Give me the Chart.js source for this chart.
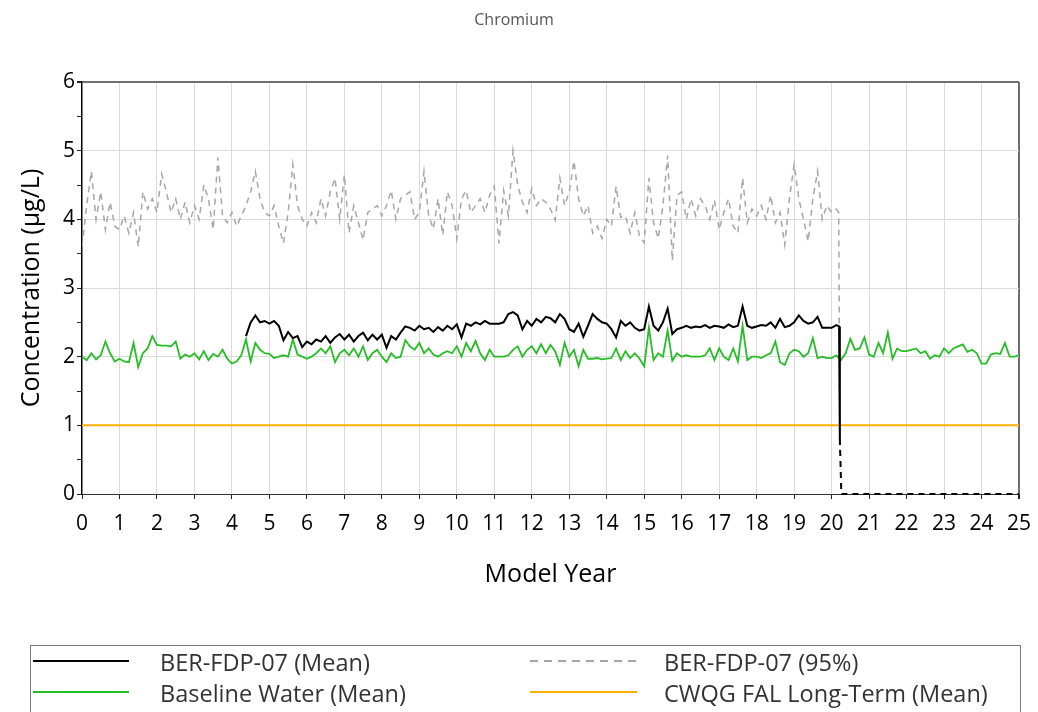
<!DOCTYPE html>
<html><head><meta charset="utf-8">
<script src="https://cdn.jsdelivr.net/npm/chart.js@4"></script>
<style>
html,body{margin:0;padding:0;background:#fff;}
#wrap{position:relative;width:1038px;height:712px;overflow:hidden;}
#c{position:absolute;left:0;top:0;}
#title{position:absolute;left:0;width:1028px;top:8px;text-align:center;font:16px "Open Sans";color:#555;}
#legend{position:absolute;left:30px;top:645px;width:991px;height:90px;border:1px solid #7a7a7a;box-sizing:border-box;font-family:"Open Sans";font-size:23.5px;color:#333;}
.lt{position:absolute;white-space:nowrap;line-height:28px;height:28px;}
</style></head>
<body><div id="wrap"><canvas id="c" width="1038" height="712"></canvas><div id="title">Chromium</div><div id="legend"></div></div>
<script>
const STEP = 0.125;
const seriesNames = ['BER-FDP-07 (Mean)', 'BER-FDP-07 (95%)', 'Baseline Water (Mean)', 'CWQG FAL Long-Term (Mean)'];
const xTicks = [0,1,2,3,4,5,6,7,8,9,10,11,12,13,14,15,16,17,18,19,20,21,22,23,24,25];
const yTicks = [0,1,2,3,4,5,6];

// Baseline Water (Mean), every 0.125 year from 0 to 25
const baselineValues = [
 2.0,1.95,2.05,1.96,2.02,2.22,2.05,1.93,
 1.97,1.93,1.92,2.2,1.85,2.05,2.12,2.3,
 2.17,2.16,2.16,2.15,2.22,1.97,2.03,2.0,
 2.05,1.96,2.08,1.95,2.04,2.0,2.1,1.97,
 1.9,1.93,2.02,2.25,1.93,2.2,2.1,2.05,
 2.04,1.98,2.0,2.02,2.0,2.25,2.03,2.0,
 1.97,2.0,2.05,2.12,2.05,2.15,1.92,2.05,
 2.1,2.02,2.12,2.0,2.15,1.95,2.05,2.1,
 2.0,1.92,2.05,1.98,2.0,2.24,2.15,2.1,
 2.2,2.05,2.12,2.03,2.0,2.05,2.08,2.05,
 2.15,2.0,2.2,2.08,2.23,2.05,1.95,2.1,
 2.0,2.0,2.0,2.02,2.1,2.15,2.0,2.1,
 2.15,2.05,2.18,2.05,2.17,2.08,1.88,2.2,
 2.0,2.1,1.86,2.1,1.97,1.97,1.98,1.96,
 1.97,1.98,2.12,1.95,2.08,1.98,2.05,1.97,
 1.86,2.42,1.95,2.05,2.0,2.38,1.94,2.05,
 2.0,2.02,2.0,2.0,2.0,2.02,2.12,1.95,
 2.12,2.0,1.95,2.12,1.93,2.45,1.95,2.0,
 2.0,1.98,2.02,2.05,2.22,1.92,1.88,2.05,
 2.1,2.08,2.0,2.05,2.27,1.98,2.0,1.98,
 1.98,2.02,1.95,2.05,2.26,2.1,2.12,2.28,
 2.03,2.0,2.2,2.05,2.35,1.97,2.12,2.08,
 2.08,2.1,2.12,2.05,2.08,1.97,2.02,2.0,
 2.12,2.05,2.12,2.15,2.18,2.07,2.1,2.05,
 1.9,1.9,2.03,2.05,2.04,2.2,2.0,2.0,
 2.02
];

// BER-FDP-07 (Mean), every 0.125 year from 4.375 to 20.125
const meanStartYear = 4.375;
const meanValues = [
 2.3,2.5,2.6,2.5,2.52,
 2.48,2.52,2.45,2.24,2.36,2.27,2.3,2.14,
 2.22,2.18,2.25,2.22,2.3,2.2,2.28,2.33,
 2.25,2.32,2.22,2.3,2.35,2.24,2.32,2.25,
 2.32,2.13,2.3,2.25,2.35,2.44,2.42,2.38,
 2.45,2.4,2.42,2.36,2.43,2.38,2.45,2.4,
 2.47,2.28,2.48,2.45,2.5,2.47,2.52,2.48,
 2.48,2.48,2.5,2.62,2.65,2.6,2.4,2.52,
 2.45,2.55,2.5,2.58,2.56,2.5,2.62,2.55,
 2.4,2.36,2.48,2.29,2.45,2.62,2.55,2.5,
 2.48,2.4,2.28,2.52,2.45,2.5,2.42,2.38,
 2.4,2.73,2.45,2.38,2.5,2.7,2.33,2.4,
 2.42,2.45,2.42,2.44,2.43,2.46,2.42,2.45,
 2.44,2.42,2.47,2.43,2.45,2.73,2.45,2.42,
 2.44,2.46,2.45,2.5,2.42,2.55,2.43,2.45,
 2.5,2.6,2.52,2.48,2.5,2.58,2.42,2.42,
 2.42,2.46
];
const meanTailYears = [20.2, 20.22, 20.26, 25];
const meanTailValues = [2.44, 0.8, 0, 0];

// BER-FDP-07 (95%), every 0.125 year from 0 to 20.125
const p95Values = [
 3.6,4.2,4.7,4.0,4.4,3.85,4.25,3.9,
 3.85,4.05,3.8,4.1,3.6,4.4,4.15,4.3,
 4.1,4.66,4.4,4.1,4.3,4.0,4.25,3.95,
 4.2,4.0,4.5,4.3,3.85,4.9,4.05,3.95,
 4.1,3.9,4.05,4.2,4.4,4.7,4.3,4.1,
 4.05,4.2,3.9,3.65,4.1,4.8,4.2,4.0,
 3.9,4.1,3.95,4.3,4.05,4.4,4.6,4.0,
 4.65,3.8,4.2,3.95,3.7,4.1,4.15,4.2,
 4.05,4.2,4.42,4.0,4.3,4.35,4.4,4.0,
 4.1,4.7,4.05,3.86,4.3,3.77,4.4,4.2,
 3.72,4.3,4.42,4.1,4.2,4.3,4.1,4.35,
 4.48,3.65,4.42,4.05,5.0,4.5,4.25,4.1,
 4.45,4.2,4.3,4.25,4.15,3.99,4.6,4.2,
 4.4,4.85,4.3,4.05,4.2,3.8,3.9,3.72,
 4.0,3.9,4.48,4.03,4.05,3.8,4.1,3.75,
 3.66,4.6,3.95,3.72,4.2,4.93,3.4,4.35,
 4.4,4.0,4.3,4.05,4.3,4.2,4.0,4.28,
 3.85,4.1,4.3,3.9,3.8,4.6,3.95,4.15,
 4.05,4.2,4.0,4.35,3.95,4.1,3.63,4.3,
 4.8,4.3,4.0,3.68,4.3,4.7,4.0,4.2,
 4.1,4.15
];
const p95TailYears = [20.19, 20.22];
const p95TailValues = [4.1, 0.6];

// CWQG FAL Long-Term (Mean)
const guideYears = [0, 25];
const guideValues = [1.0, 1.0];

const colors = {mean:'#000000', p95:'#a6a6a6', base:'#26bd26', guide:'#ffb000'};
const FONT = '"Open Sans", "Noto Sans", sans-serif';

function stepped(start, vals){ return vals.map((v,i)=>({x: start + i*STEP, y: v})); }
function paired(xs, ys){ return xs.map((x,i)=>({x: x, y: ys[i]})); }

const meanData = stepped(meanStartYear, meanValues).concat(paired(meanTailYears, meanTailValues));
const p95Data = stepped(0, p95Values).concat(paired(p95TailYears, p95TailValues));
const baseData = stepped(0, baselineValues);
const guideData = paired(guideYears, guideValues);

new Chart(document.getElementById('c'), {
  type: 'line',
  data: { datasets: [
    {label: seriesNames[0], data: meanData, borderColor: colors.mean, borderWidth: 2, clip: 6,
     segment: {borderDash: ctx => ctx.p0.parsed.y < 1 ? [6,5] : undefined}},
    {label: seriesNames[3], data: guideData, borderColor: colors.guide, borderWidth: 2},
    {label: seriesNames[2], data: baseData, borderColor: colors.base, borderWidth: 1.8},
    {label: seriesNames[1], data: p95Data, borderColor: colors.p95, borderWidth: 1.5, borderDash: [6,5]}
  ]},
  options: {
    responsive: false, animation: false,
    layout: {padding: {left: 0, right: 19, top: 82, bottom: 0}},
    plugins: {legend: {display: false}, title: {display: false}, tooltip: {enabled: false}},
    elements: {point: {radius: 0}, line: {tension: 0, fill: false}},
    scales: {
      x: {
        type: 'linear', min: 0, max: 25,
        afterFit(s){ s.height = 218; s.paddingLeft = 0; s.paddingRight = 0; },
        afterBuildTicks(s){ s.ticks = xTicks.map(v => ({value: v})); },
        ticks: {font: {family: FONT, size: 21}, color: '#000', padding: 12, maxRotation: 0, autoSkip: false},
        grid: {color: c => c.tick.value === 25 ? '#6e6e6e' : (c.tick.value === 0 ? 'rgba(0,0,0,0)' : '#dadada'),
               lineWidth: c => c.tick.value === 25 ? 2 : 1, tickColor: '#222', tickLength: 5},
        border: {color: '#333', width: 1},
        title: {display: true, text: 'Model Year', font: {family: FONT, size: 25}, color: '#000', padding: {top: 0, bottom: 122}}
      },
      y: {
        min: 0, max: 6,
        afterFit(s){ s.width = 82; s.paddingTop = 0; s.paddingBottom = 0; },
        afterBuildTicks(s){ const t=[]; for (const v of yTicks){ t.push({value:v}); if (v<6) t.push({value:v+0.5}); } s.ticks = t; },
        ticks: {font: {family: FONT, size: 21}, color: '#000', padding: 2,
                callback: v => yTicks.includes(v) ? String(v) : ''},
        grid: {color: c => c.tick.value === 6 ? '#6e6e6e' : ((Number.isInteger(c.tick.value) && c.tick.value !== 0) ? '#dadada' : 'rgba(0,0,0,0)'),
               lineWidth: c => c.tick.value === 6 ? 2 : 1, tickColor: '#222', tickLength: 5},
        border: {color: '#000', width: 1.5},
        title: {display: true, text: 'Concentration (µg/L)', font: {family: FONT, size: 25}, color: '#000', padding: {top: 17, bottom: 0}}
      }
    }
  }
});

// HTML legend
const legend = document.getElementById('legend');
const items = [
  {name: seriesNames[0], color: colors.mean, dash: null, sx: 2, sw: 96, tx: 129, y: 15},
  {name: seriesNames[1], color: colors.p95, dash: '8,6', sx: 499, sw: 107, tx: 633, y: 15},
  {name: seriesNames[2], color: colors.base, dash: null, sx: 2, sw: 96, tx: 129, y: 46},
  {name: seriesNames[3], color: colors.guide, dash: null, sx: 499, sw: 107, tx: 633, y: 46}
];
for (const it of items) {
  const s = document.createElementNS('http://www.w3.org/2000/svg','svg');
  s.setAttribute('width', it.sw); s.setAttribute('height', 4);
  s.style.position='absolute'; s.style.left=it.sx+'px'; s.style.top=(it.y-2)+'px';
  const l = document.createElementNS('http://www.w3.org/2000/svg','line');
  l.setAttribute('x1',0); l.setAttribute('x2',it.sw); l.setAttribute('y1',2); l.setAttribute('y2',2);
  l.setAttribute('stroke', it.color); l.setAttribute('stroke-width', 2);
  if (it.dash) l.setAttribute('stroke-dasharray', it.dash);
  s.appendChild(l); legend.appendChild(s);
  const t = document.createElement('div'); t.className='lt'; t.textContent = it.name;
  t.style.left = it.tx+'px'; t.style.top = (it.y-13)+'px';
  legend.appendChild(t);
}
</script></body></html>
